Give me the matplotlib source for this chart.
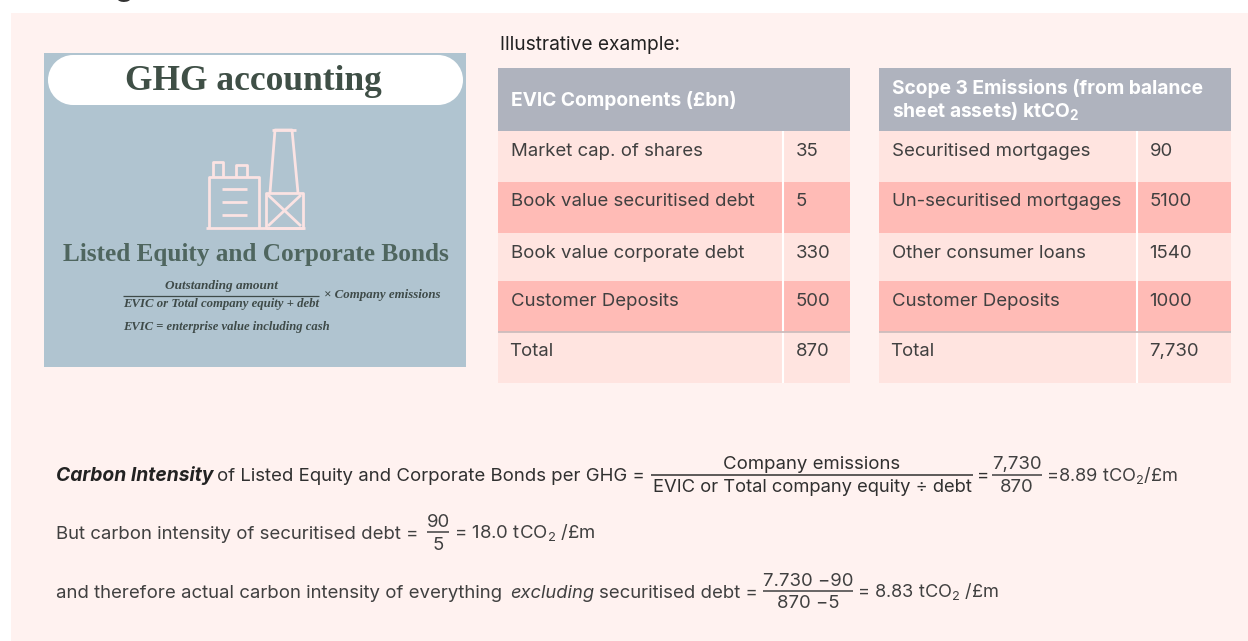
import matplotlib
matplotlib.use("Agg")
import matplotlib.pyplot as plt
from matplotlib.patches import Rectangle, Ellipse

# ---- data ----
header_left = ["EVIC Components (£bn)"]
labels_left = ["Market cap. of shares", "Book value securitised debt", "Book value corporate debt", "Customer Deposits", "Total"]
values_left = ["35", "5", "330", "500", "870"]
header_right = ["Scope 3 Emissions (from balance", r"sheet assets) ktCO$_\mathbf{2}$"]
labels_right = ["Securitised mortgages", "Un-securitised mortgages", "Other consumer loans", "Customer Deposits", "Total"]
values_right = ["90", "5100", "1540", "1000", "7,730"]

W, H = 1248, 641
BG = "#FFF2F0"; HEAD = "#AFB3BE"; LIGHT = "#FFE4E0"; DARK = "#FFBBB6"; PANEL = "#B0C4D0"
TXT = "#404040"
FONT = "Inter"
plt.rcParams["mathtext.fontset"] = "custom"
plt.rcParams["mathtext.rm"] = FONT
plt.rcParams["mathtext.bf"] = FONT + ":bold"
plt.rcParams["font.family"] = FONT

fig = plt.figure(figsize=(W/100, H/100), dpi=100, facecolor="white")
ax = fig.add_axes([0, 0, 1, 1])
ax.set_xlim(0, W); ax.set_ylim(H, 0); ax.axis("off")

def rect(x0, y0, x1, y1, c, z=1):
    ax.add_patch(Rectangle((x0, y0), x1-x0, y1-y0, fc=c, ec="none", zorder=z))

def line(xs, ys, c, lw=1.0, z=4):
    ax.plot(xs, ys, color=c, lw=lw, solid_capstyle="butt", zorder=z)

def txt(x, y, s, size=13.4, c=TXT, ha="left", va="baseline", **kw):
    return ax.text(x, y, s, fontsize=size, color=c, ha=ha, va=va, zorder=5, **kw)

rect(11, 13, W, H, BG)
txt(124, -4, "g", size=21, c="#333333", ha="center", weight="bold")

# ---- picture panel ----
rect(44, 53, 466, 367, PANEL)
rect(73, 55, 438, 105, "white", z=2)
ax.add_patch(Ellipse((73, 80), 50, 50, fc="white", ec="none", zorder=2))
ax.add_patch(Ellipse((438, 80), 50, 50, fc="white", ec="none", zorder=2))
SERIF = "Liberation Serif"
INK = "#3E4A48"
txt(253, 81, "GHG accounting", size=25.5, c="#3F4F46", ha="center", va="center", family=SERIF, weight="bold")
txt(256, 254, "Listed Equity and Corporate Bonds", size=18.2, c="#4F665F", ha="center", va="center", family=SERIF, weight="bold")
txt(221, 286, "Outstanding amount", size=9.5, c=INK, ha="center", va="center", family=SERIF, style="italic", weight="bold")
line([123, 319], [296, 296], INK, 0.9)
txt(221, 304, "EVIC or Total company equity + debt", size=9.2, c=INK, ha="center", va="center", family=SERIF, style="italic", weight="bold")
txt(324, 295, "× Company emissions", size=9.3, c=INK, va="center", family=SERIF, style="italic", weight="bold")
txt(123, 327, "EVIC = enterprise value including cash", size=9.1, c=INK, va="center", family=SERIF, style="italic", weight="bold")

# factory icon
ICON = "#FBE3E3"
for xs, ys in [
    ([206, 305], [228, 228]),
    ([209, 209, 259, 259], [228, 177, 177, 228]),
    ([213, 213, 223, 223], [177, 162, 162, 177]),
    ([236, 236, 247, 247], [177, 165, 165, 177]),
    ([222, 247], [189, 189]), ([222, 247], [202, 202]), ([222, 247], [215, 215]),
    ([266, 266, 303, 303, 266], [228, 193, 193, 228, 228]),
    ([268, 301], [195, 226]), ([301, 268], [195, 226]),
    ([270, 275, 292, 298], [193, 130, 130, 193]),
    ([272, 296], [130, 130]),
]:
    line(xs, ys, ICON, 2.0, z=3)

# ---- tables ----
txt(500, 50, "Illustrative example:", size=13.8, c="#222222")
rows_y = [131, 181.5, 232.5, 281, 332, 383]
base_y = [156, 206, 258, 306, 356]
head_y = {1: [106], 2: [93.5, 118]}

def table(x0, xs, x1, header, labels, values):
    rect(x0, 68, x1, 131, HEAD)
    for yy, s in zip(head_y[len(header)], header):
        txt(x0+13, yy, s, size=13.8, c="white", weight="bold")
    for i, (lab, val) in enumerate(zip(labels, values)):
        rect(x0, rows_y[i], x1, rows_y[i+1], DARK if i % 2 else LIGHT)
        txt(x0+13 - (1.5 if lab == "Total" else 0), base_y[i], lab)
        txt(xs+12.5, base_y[i], val)
    line([xs, xs], [131, 383], "white", 1.5)
    line([x0, x1], [332, 332], "#CDBDBD", 1.3)

table(498, 783, 850, header_left, labels_left, values_left)
table(879, 1137, 1231, header_right, labels_right, values_right)

# ---- formulas ----
K = "#404040"
def frac(xc, y, num, den, half, c=K, den_size=13.4):
    txt(xc, y-5.3, num, c=c, ha="center")
    txt(xc, y+17.5, den, size=den_size, c=c, ha="center")
    line([xc-half, xc+half], [y, y], c, 1.1)

y1 = 481
txt(56, y1, "Carbon Intensity", size=13.9, c="#222222", weight="bold", style="italic")
txt(217, y1, "of Listed Equity and Corporate Bonds per GHG =", c="#303030")
frac(812, 474.5, "Company emissions", "EVIC or Total company equity ÷ debt", 161, c="#303030", den_size=13.25)
txt(977, y1, "=", c="#303030")
frac(1017, 474.5, "7,730", "870", 25)
txt(1046, y1, "=8.89 tCO$_2$/£m", size=13.1)

y2 = 539
txt(56, y2, "But carbon intensity of securitised debt =")
frac(438, 532, "90", "5", 11)
txt(454, y2, "= 18.0 tCO$_2$ /£m")

y3 = 597.5
txt(56, y3, "and therefore actual carbon intensity of everything")
txt(510, y3, "excluding", size=13.2, style="italic")
txt(599, y3, "securitised debt =")
frac(808, 591, "7.730 −90", "870 −5", 45)
txt(857, y3, "= 8.83 tCO$_2$ /£m", size=13.1)

fig.savefig("out.png", dpi=100, facecolor="white")
